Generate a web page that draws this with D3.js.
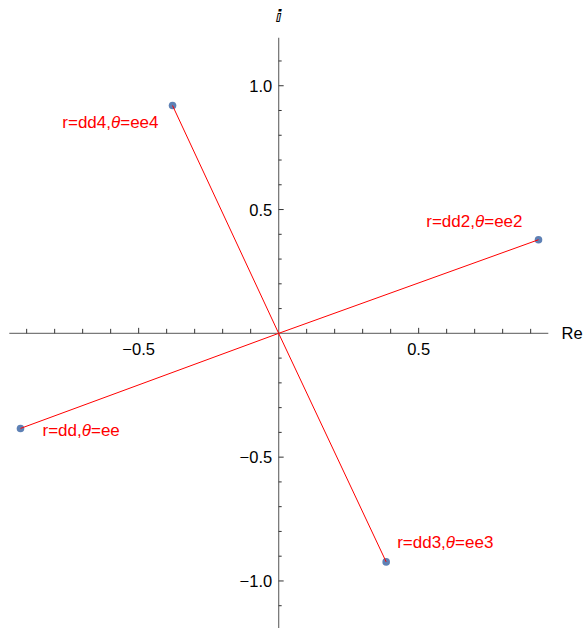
<!doctype html>
<html lang="en">
  <head>
    <meta charset="utf-8" />
    <title>Complex plane</title>
    <style>
      body { margin: 0; background: #fff; }
      text { font-family: "Liberation Sans", Arial, sans-serif; }
    </style>
  </head>
  <body>
    <div id="my_dataviz"></div>
    <script src="https://d3js.org/d3.v7.min.js"></script>
    <script>
// values
var names = ["dd", "dd2", "dd3", "dd4"];
var angles = ["ee", "ee2", "ee3", "ee4"];
var re = [-0.922, 0.928, 0.384, -0.379];
var im = [-0.384, 0.378, -0.923, 0.920];
var xTicks = [-0.5, 0.5];
var yTicks = [-1.0, -0.5, 0.5, 1.0];

var width = 585, height = 628;

var x = d3.scaleLinear().domain([-0.962, 0.963]).range([9.3, 548.3]);
var y = d3.scaleLinear().domain([-1.19, 1.194]).range([628, 37.7]);

var svg = d3.select("#my_dataviz")
  .append("svg")
    .attr("width", width)
    .attr("height", height);

// minor ticks every 0.1
var xMinor = d3.range(-9, 10).map(function(i) { return i / 10; }).filter(function(v) { return v !== 0; });
var yMinor = d3.range(-11, 12).map(function(i) { return i / 10; }).filter(function(v) { return v !== 0; });

// x axis
var gx = svg.append("g").attr("transform", "translate(0," + y(0) + ")");
gx.append("line")
    .attr("x1", x.range()[0]).attr("x2", x.range()[1])
    .attr("stroke", "#7a7a7a").attr("stroke-width", 1.3);
gx.selectAll("line.tick")
  .data(xMinor)
  .enter().append("line")
    .attr("class", "tick")
    .attr("x1", function(d) { return x(d); }).attr("x2", function(d) { return x(d); })
    .attr("y1", 0).attr("y2", function(d) { return xTicks.indexOf(d) >= 0 ? -5.5 : -4.5; })
    .attr("stroke", "#333").attr("stroke-width", 1);
gx.selectAll("text")
  .data(xTicks)
  .enter().append("text")
    .attr("x", function(d) { return x(d); })
    .attr("y", 21.7)
    .attr("text-anchor", "middle")
    .style("font-size", "16.5px")
    .text(function(d) { return d3.format(".1f")(d).replace("-", "\u2212"); });
gx.append("text")
    .attr("x", 561.5).attr("y", 0)
    .attr("dominant-baseline", "central")
    .style("font-size", "16.5px")
    .text("Re");

// y axis
var gy = svg.append("g").attr("transform", "translate(" + x(0) + ",0)");
gy.append("line")
    .attr("y1", y.range()[0]).attr("y2", y.range()[1])
    .attr("stroke", "#7a7a7a").attr("stroke-width", 1.3);
gy.selectAll("line.tick")
  .data(yMinor)
  .enter().append("line")
    .attr("class", "tick")
    .attr("y1", function(d) { return y(d); }).attr("y2", function(d) { return y(d); })
    .attr("x1", 0).attr("x2", function(d) { return yTicks.indexOf(d) >= 0 ? 5 : 3; })
    .attr("stroke", "#333").attr("stroke-width", 1);
gy.selectAll("text")
  .data(yTicks)
  .enter().append("text")
    .attr("x", -6.5)
    .attr("y", function(d) { return y(d); })
    .attr("text-anchor", "end")
    .attr("dominant-baseline", "central")
    .style("font-size", "16.5px")
    .text(function(d) { return d3.format(".1f")(d).replace("-", "\u2212"); });
gy.append("text")
    .attr("x", 0).attr("y", 22)
    .attr("text-anchor", "middle")
    .style("font-family", "DejaVu Sans")
    .style("font-size", "17px")
    .style("font-weight", "bold")
    .text("\u2148");

var data = names.map(function(n, i) { return {name: n, angle: angles[i], re: re[i], im: im[i]}; });

// points
svg.append("g")
  .selectAll("circle")
  .data(data)
  .enter().append("circle")
    .attr("cx", function(d) { return x(d.re); })
    .attr("cy", function(d) { return y(d.im); })
    .attr("r", 3.8)
    .attr("fill", "#5e81b5");

// lines from origin
svg.append("g")
  .selectAll("line")
  .data(data)
  .enter().append("line")
    .attr("x1", x(0)).attr("y1", y(0))
    .attr("x2", function(d) { return x(d.re); })
    .attr("y2", function(d) { return y(d.im); })
    .attr("stroke", "#ff0000").attr("stroke-width", 1);

// label placement (anchor, dx, dy) per point
var place = {
  dd:  ["start", 22, 8],
  dd2: ["end", -16, -13],
  dd3: ["start", 11, -14],
  dd4: ["end", -14, 22]
};

var lab = svg.append("g")
  .selectAll("text")
  .data(data)
  .enter().append("text")
    .attr("x", function(d) { return x(d.re) + place[d.name][1]; })
    .attr("y", function(d) { return y(d.im) + place[d.name][2]; })
    .attr("text-anchor", function(d) { return place[d.name][0]; })
    .attr("fill", "#ff0000")
    .style("font-size", "17px");
lab.append("tspan").text(function(d) { return "r=" + d.name + ","; });
lab.append("tspan").style("font-style", "italic").text("\u03b8");
lab.append("tspan").text(function(d) { return "=" + d.angle; });
    </script>
  </body>
</html>
